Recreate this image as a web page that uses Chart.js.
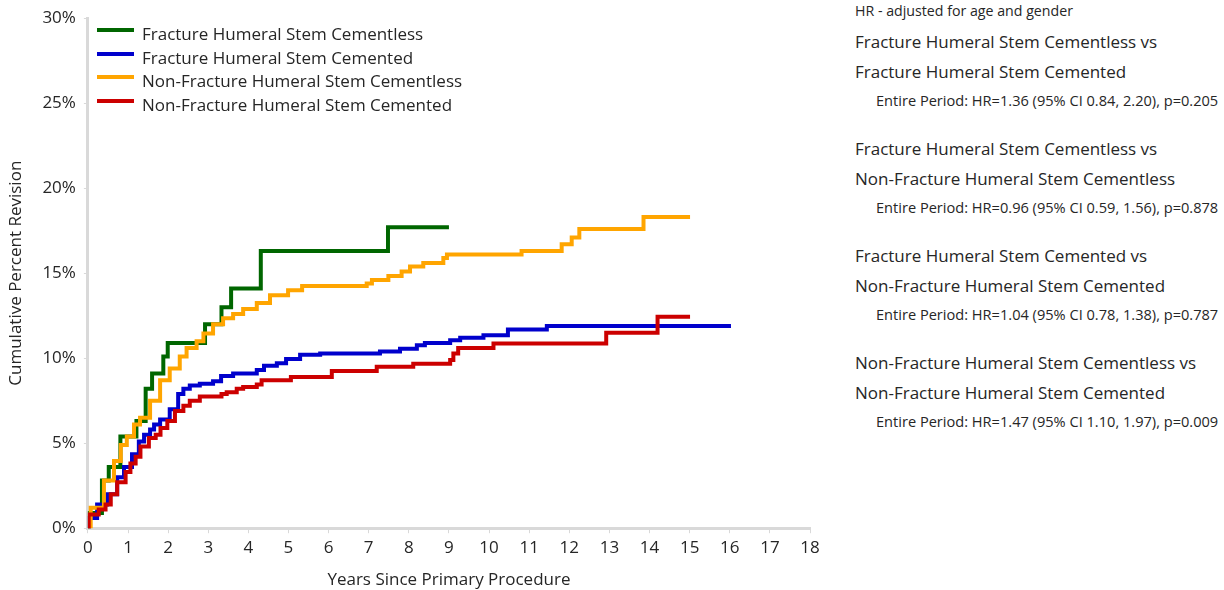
<!DOCTYPE html>
<html>
<head>
<meta charset="utf-8">
<title>Cumulative Percent Revision by Humeral Stem Type</title>
<script src="https://cdn.jsdelivr.net/npm/chart.js@4/dist/chart.umd.min.js"></script>
<style>
  html, body { margin: 0; padding: 0; background: #fff; }
  body { width: 1224px; height: 590px; position: relative; overflow: hidden;
         font-family: "Open Sans", "Noto Sans", sans-serif; color: #262626; }
  #chartWrap { position: absolute; left: 0; top: 0; width: 840px; height: 590px; }
  #legend { position: absolute; left: 97px; top: 22px; }
  .legend-row { display: flex; align-items: center; height: 23.5px; font-size: 17px; white-space: nowrap; }
  .legend-line { width: 37px; height: 4px; margin-right: 8px; margin-top: -7px; }
  #hrPanel { position: absolute; left: 855px; top: 0; white-space: nowrap; }
  #hrPanel .note { font-size: 14.2px; line-height: 22px; margin-bottom: 5px; }
  #hrPanel .pair { font-size: 17px; line-height: 29.5px; }
  #hrPanel .stat { font-size: 14.6px; line-height: 29px; padding-left: 21px; margin-bottom: 19px; }
</style>
</head>
<body>
<div id="chartWrap"><canvas id="revisionChart"></canvas></div>
<div id="legend"></div>
<div id="hrPanel"></div>

<script>
// Series labels and colours
const seriesLabels = [
  'Fracture Humeral Stem Cementless',
  'Fracture Humeral Stem Cemented',
  'Non-Fracture Humeral Stem Cementless',
  'Non-Fracture Humeral Stem Cemented'
];
const seriesColors = ['#006600', '#0000cc', '#ffa500', '#cc0000'];

// Kaplan-Meier steps: year of each step and the cumulative % after it
const fxCementlessYears = [0, 0.02, 0.35, 0.52, 0.81, 1.21, 1.44, 1.60, 1.88, 1.99, 2.92, 3.33, 3.57, 4.31, 7.48, 9.0];
const fxCementlessPct   = [0, 0.9, 2.8, 3.6, 5.4, 6.3, 8.2, 9.1, 10.1, 10.9, 12.0, 13.0, 14.1, 16.3, 17.7, 17.7];

const fxCementedYears = [0, 0.02, 0.23, 0.48, 0.73, 0.90, 1.10, 1.27, 1.40, 1.55, 1.65, 1.80, 2.04, 2.25, 2.38, 2.54, 2.79,
  3.12, 3.32, 3.62, 4.21, 4.39, 4.71, 4.94, 5.29, 5.79, 7.28, 7.78, 8.20, 8.40, 9.03, 9.28, 9.86, 10.47, 11.44, 16.03];
const fxCementedPct = [0, 0.6, 1.4, 2.0, 3.0, 3.6, 4.35, 5.1, 5.5, 5.8, 6.1, 6.4, 7.0, 7.9, 8.2, 8.4, 8.5,
  8.65, 8.95, 9.1, 9.3, 9.55, 9.7, 9.95, 10.2, 10.27, 10.4, 10.56, 10.76, 10.9, 11.05, 11.2, 11.35, 11.69, 11.9, 11.9];

const nonFxCementlessYears = [0, 0.07, 0.40, 0.65, 0.82, 0.97, 1.15, 1.30, 1.55, 1.80, 2.04, 2.29, 2.46, 2.71, 2.88, 3.12,
  3.37, 3.62, 3.87, 4.21, 4.54, 4.99, 5.34, 6.95, 7.08, 7.49, 7.82, 8.03, 8.36, 8.86, 8.95, 10.81, 11.81, 12.06, 12.25, 13.85, 15.01];
const nonFxCementlessPct = [0, 1.2, 2.8, 3.95, 4.9, 5.4, 6.1, 6.5, 7.5, 8.7, 9.4, 10.1, 10.6, 11.0, 11.45, 12.0,
  12.35, 12.6, 12.9, 13.25, 13.7, 14.0, 14.25, 14.4, 14.6, 14.84, 15.1, 15.4, 15.6, 15.9, 16.1, 16.3, 16.7, 17.1, 17.6, 18.3, 18.3];

const nonFxCementedYears = [0, 0.02, 0.27, 0.44, 0.57, 0.73, 0.94, 1.06, 1.19, 1.31, 1.52, 1.69, 1.81, 1.98, 2.17, 2.38, 2.54,
  2.79, 3.33, 3.46, 3.71, 3.87, 4.21, 4.33, 5.06, 6.08, 7.20, 8.11, 9.03, 9.11, 9.23, 10.11, 12.92, 14.2, 15.01];
const nonFxCementedPct = [0, 0.8, 1.1, 1.4, 2.0, 2.7, 3.3, 3.8, 4.2, 4.8, 5.3, 5.5, 5.9, 6.3, 6.9, 7.2, 7.5,
  7.75, 7.9, 8.0, 8.2, 8.3, 8.45, 8.7, 8.9, 9.25, 9.5, 9.67, 9.9, 10.27, 10.6, 10.86, 11.5, 12.44, 12.44];

// Axis ranges
const yearTicks = { min: 0, max: 18, step: 1 };
const pctTicks = { min: 0, max: 30, step: 5 };

// Hazard ratio comparisons shown beside the chart
const hrNote = 'HR - adjusted for age and gender';
const hrPairs = [
  ['Fracture Humeral Stem Cementless vs', 'Fracture Humeral Stem Cemented'],
  ['Fracture Humeral Stem Cementless vs', 'Non-Fracture Humeral Stem Cementless'],
  ['Fracture Humeral Stem Cemented vs', 'Non-Fracture Humeral Stem Cemented'],
  ['Non-Fracture Humeral Stem Cementless vs', 'Non-Fracture Humeral Stem Cemented']
];
const hrStats = [
  'Entire Period: HR=1.36 (95% CI 0.84, 2.20), p=0.205',
  'Entire Period: HR=0.96 (95% CI 0.59, 1.56), p=0.878',
  'Entire Period: HR=1.04 (95% CI 0.78, 1.38), p=0.787',
  'Entire Period: HR=1.47 (95% CI 1.10, 1.97), p=0.009'
];

const seriesYears = [fxCementlessYears, fxCementedYears, nonFxCementlessYears, nonFxCementedYears];
const seriesPct = [fxCementlessPct, fxCementedPct, nonFxCementlessPct, nonFxCementedPct];

function toPoints(xs, ys) {
  return xs.map((x, i) => ({ x: x, y: ys[i] }));
}

const fontFamily = "'Open Sans', 'Noto Sans', sans-serif";
const axisGrey = '#d9d9d9';
const textColor = '#262626';

const datasets = seriesLabels.map((label, i) => ({
  label: label,
  data: toPoints(seriesYears[i], seriesPct[i]),
  borderColor: seriesColors[i],
  backgroundColor: seriesColors[i],
  borderWidth: 4,
  stepped: true,
  pointRadius: 0,
  fill: false,
  // later series are painted on top
  order: seriesLabels.length - i
}));

const ctx = document.getElementById('revisionChart').getContext('2d');
new Chart(ctx, {
  type: 'line',
  data: { datasets: datasets },
  options: {
    responsive: true,
    maintainAspectRatio: false,
    animation: false,
    layout: { padding: { left: 6, right: 30, top: 17, bottom: 0 } },
    plugins: {
      legend: { display: false },
      tooltip: { enabled: false }
    },
    scales: {
      x: {
        type: 'linear',
        min: yearTicks.min,
        max: yearTicks.max,
        ticks: { stepSize: yearTicks.step, color: textColor, font: { family: fontFamily, size: 17 }, padding: 5 },
        grid: { drawOnChartArea: false, drawTicks: true, tickLength: 5, color: axisGrey, lineWidth: 1 },
        border: { display: true, color: axisGrey, width: 3 },
        title: { display: true, text: 'Years Since Primary Procedure', color: textColor,
                 font: { family: fontFamily, size: 17 }, padding: { top: 6, bottom: 0 } }
      },
      y: {
        min: pctTicks.min,
        max: pctTicks.max,
        ticks: { stepSize: pctTicks.step, color: textColor, font: { family: fontFamily, size: 17 }, padding: 8,
                 callback: v => v + '%' },
        grid: { drawOnChartArea: false, drawTicks: true, tickLength: 4, color: axisGrey, lineWidth: 1 },
        border: { display: true, color: axisGrey, width: 3 },
        title: { display: true, text: 'Cumulative Percent Revision', color: textColor,
                 font: { family: fontFamily, size: 17 }, padding: { top: 0, bottom: 8 } }
      }
    }
  }
});

// Legend
const legendEl = document.getElementById('legend');
seriesLabels.forEach((label, i) => {
  const row = document.createElement('div');
  row.className = 'legend-row';
  row.innerHTML = `<span class="legend-line" style="background:${seriesColors[i]}"></span>${label}`;
  legendEl.appendChild(row);
});

// HR panel
const panel = document.getElementById('hrPanel');
panel.innerHTML = `<div class="note">${hrNote}</div>` + hrPairs.map((p, i) => `
  <div class="pair">${p[0]}</div>
  <div class="pair">${p[1]}</div>
  <div class="stat">${hrStats[i]}</div>`).join('');
</script>
</body>
</html>
